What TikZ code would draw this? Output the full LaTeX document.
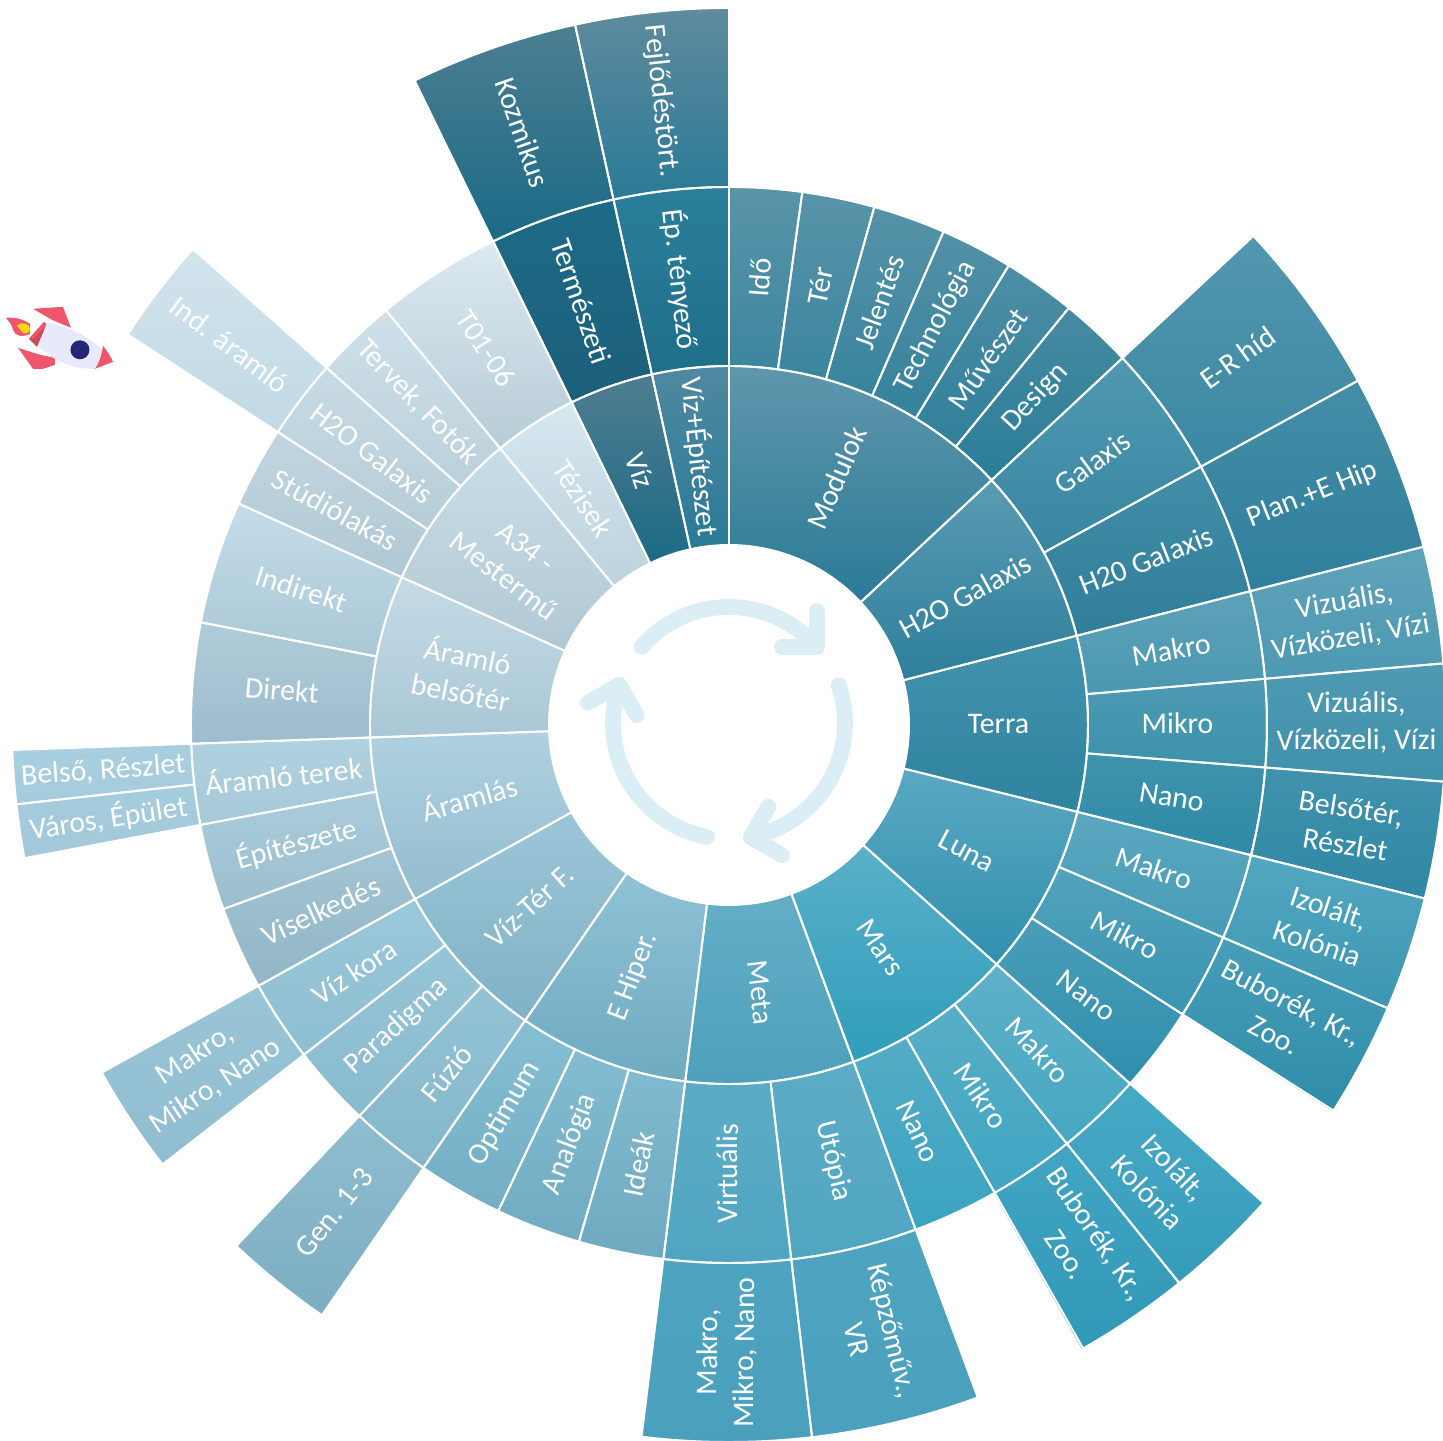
\documentclass[tikz,border=0pt]{standalone}
\usepackage{fontspec}
\setmainfont{Carlito}
\newcommand{\sectorpath}[4]{({90-#1}:#3) arc[start angle={90-#1},end angle={90-#2},radius=#3] -- ({90-#2}:#4) arc[start angle={90-#2},end angle={90-#1},radius=#4] -- cycle}
\tikzset{
	seclabel/.style={text=white,align=center,inner sep=0pt,font=\fontsize{8.5}{10.5}\selectfont},
	secline/.style={draw=white,line width=0.55pt,line join=round},
	cycleline/.style={draw=cycleblue,line width=4.5pt,line cap=round,line join=round}
}
\definecolor{cycleblue}{HTML}{DCEEF5}
\definecolor{rocketred}{HTML}{F0566B}
\begin{document}
\begin{tikzpicture}[scale=1.0]
	\clip (-7.29,-7.15) rectangle (7.14,7.25);
	% one gradient for each branch in each ring
	\foreach \angA/\angB/\ring/\tcol/\bcol in {
		0/47/1/5F97AC/2A7A96, 0/47/2/5A94A9/2A7D98,
		47/75.6/1/5A9BB3/2D7F9B, 47/75.6/2/4F98B1/2F7E9A, 47/75.6/3/5297AF/2F7F9C,
		75.6/104/1/4392AE/2E839F, 75.6/104/2/5DA1B8/2D8AA6, 75.6/104/3/5FA3BA/2F88A5,
		104/131.8/1/5AA8C2/3090AE, 104/131.8/2/5BA7BF/2E8FAE, 104/122.6/3/52A7C0/2F8CA9,
		131.8/159.7/1/5AB0C9/2F9DBB, 131.8/159.7/2/5EB0C7/3AA3C1, 131.8/150.5/3/46A9C6/3198B7,
		159.7/187/1/64AEC6/4DA0BC, 159.7/187/2/5EACC6/4FA5C1, 159.7/187/3/4EA5C1/4A9FBC,
		187/214.6/1/8FC2D5/6FAAC1, 187/214.6/2/86BFD3/6EA9C0,
		214.6/241/1/9CC6D8/80B1C5, 214.6/241/2/9BC8DA/84B7CB,
		214.6/223.4/3/8FBDD0/7CADC1, 232.2/241/3/9AC5D7/8FBDD0,
		241/268/1/AED1E0/94BCCF, 241/268/2/B0D2E0/92B5C7, 259.3/268/3/A8CFE0/A2C8DA,
		268/294.3/1/C5DBE6/A9C7D6, 268/294.3/2/C3DCE8/9DBCCC,
		294.3/320.4/1/C9DDE7/B1C8D4, 294.3/320.4/2/CFE0E9/B0C8D4, 303/311.6/3/D2E4ED/C1D9E5,
		320.4/334/1/D6E7EF/BDD2DC, 320.4/334/2/DBE9F0/B7CCD6,
		334/347.6/1/4F7D90/1D6A85, 334/347.6/2/1D6B87/1D5F7A, 334/347.6/3/4D7F92/1A6A86,
		347.6/360/1/4F89A0/2A7A97, 347.6/360/2/2B7F9B/1F6E8A, 347.6/360/3/5F8B9D/2A7A97}{
		\pgfmathsetmacro{\rin}{1.80+(\ring-1)*1.79}
		\pgfmathsetmacro{\rout}{\rin+1.79}
		\definecolor{gradtop}{HTML}{\tcol}
		\definecolor{gradbot}{HTML}{\bcol}
		\shade[top color=gradtop,bottom color=gradbot] \sectorpath{\angA}{\angB}{\rin}{\rout};
	}
	\foreach \angA/\angB/\ring/\txt [count=\n] in {
		0/47/1/Modulok, 47/75.6/1/H2O Galaxis, 75.6/104/1/Terra, 104/131.8/1/Luna,
		131.8/159.7/1/Mars, 159.7/187/1/Meta, 187/214.6/1/E Hiper.,
		214.6/241/1/Víz-Tér F., 241/268/1/Áramlás, 268/294.3/1/{Áramló\\belsőtér},
		294.3/320.4/1/{A34 -\\Mestermű}, 320.4/334/1/Tézisek, 334/347.6/1/Víz,
		347.6/360/1/Víz+Építészet,
		0/7.83/2/Idő, 7.83/15.67/2/Tér, 15.67/23.5/2/Jelentés, 23.5/31.33/2/Technológia,
		31.33/39.17/2/Művészet, 39.17/47/2/Design,
		47/61.3/2/Galaxis, 61.3/75.6/2/H20 Galaxis,
		75.6/85.07/2/Makro, 85.07/94.53/2/Mikro, 94.53/104/2/Nano,
		104/113.27/2/Makro, 113.27/122.53/2/Mikro, 122.53/131.8/2/Nano,
		131.8/141.1/2/Makro, 141.1/150.4/2/Mikro, 150.4/159.7/2/Nano,
		159.7/173.35/2/Utópia, 173.35/187/2/Virtuális,
		187/196.2/2/Ideák, 196.2/205.4/2/Analógia, 205.4/214.6/2/Optimum,
		214.6/223.4/2/Fúzió, 223.4/232.2/2/Paradigma, 232.2/241/2/Víz kora,
		241/250/2/Viselkedés, 250/259.3/2/Építészete, 259.3/268/2/Áramló terek,
		268/281/2/Direkt, 281/294.3/2/Indirekt,
		294.3/303/2/Stúdiólakás, 303/311.6/2/H2O Galaxis, 311.6/320.4/2/{Tervek, Fotók},
		320.4/334/2/T01-06, 334/347.6/2/Természeti, 347.6/360/2/Ép. tényező,
		47/61.3/3/E-R híd, 61.3/75.6/3/Plan.+E Hip,
		75.6/85.07/3/{Vizuális,\\Vízközeli, Vízi}, 85.07/94.53/3/{Vizuális,\\Vízközeli, Vízi},
		94.53/104/3/{Belsőtér,\\Részlet},
		104/113.27/3/{Izolált,\\Kolónia}, 113.27/122.53/3/{Buborék, Kr.,\\Zoo.},
		131.8/141.1/3/{Izolált,\\Kolónia}, 141.1/150.4/3/{Buborék, Kr.,\\Zoo.},
		159.7/173.35/3/{Képzőműv.,\\VR}, 173.35/187/3/{Makro,\\Mikro, Nano},
		214.6/223.4/3/Gen. 1-3, 232.2/241/3/{Makro,\\Mikro, Nano},
		259.3/263.65/3/{Város, Épület}, 263.65/268/3/{Belső, Részlet},
		303/311.6/3/Ind. áramló, 334/347.6/3/Kozmikus, 347.6/360/3/Fejlődéstört.}{
		\pgfmathsetmacro{\rin}{1.80+(\ring-1)*1.79}
		\pgfmathsetmacro{\rout}{\rin+1.79}
		\pgfmathsetmacro{\rmid}{\rin+0.895}
		\pgfmathsetmacro{\amid}{(\angA+\angB)/2}
		\pgfmathsetmacro{\rot}{\amid<175 ? 90-\amid : 270-\amid}
		\draw[secline] \sectorpath{\angA}{\angB}{\rin}{\rout};
		\node[seclabel,rotate=\rot] (lab\n) at ({90-\amid}:\rmid) {\txt};
	}
	% arrows in the hole
	\foreach \k in {0,120,240}{
		\begin{scope}[shift={(0,0.02)},rotate=-\k]
			\draw[cycleline] (139:1.16) arc[start angle=139,end angle=41,radius=1.16];
			\draw[cycleline] (0.88,1.12) -- (0.88,0.76) -- (0.53,0.76);
		\end{scope}
	}
	% rocket, in pixels of the picture
	\begin{scope}[shift={(-7.29,7.25)},x=0.01cm,y=-0.01cm]
		\fill[rocketred] (33,309) -- (63,307) -- (71,328) -- (52,320) -- cycle;
		\fill[rocketred] (18,348) -- (40,355) -- (55,358) -- (55,365) -- (43,369) -- (33,369) -- cycle;
		\fill[rocketred] (6,318) .. controls (16,317) and (24,320) .. (30,324) -- (30,334) .. controls (22,338) and (15,336) .. (13,330) .. controls (12,325) and (9,322) .. (6,318) -- cycle;
		\fill[yellow!75!orange] (17,326) .. controls (22,321) and (30,324) .. (30,329) .. controls (30,334) and (24,335) .. (22,332) -- cycle;
		\fill[rocketred!85!black] (44,322) -- (29,339) -- (37,347) -- (47,325) -- cycle;
		\fill[rocketred] (44,322) -- (31,338) -- (33,339) -- (46,326) -- cycle;
		\fill[gray!25!blue!10!white] (47,323) .. controls (75,326) and (100,345) .. (113,362) -- (95,369) .. controls (70,370) and (50,358) .. (38,346) -- cycle;
		\fill[rocketred] (103,346) .. controls (108,352) and (111,357) .. (113,362) -- (95,369) .. controls (100,362) and (102,354) .. (103,346) -- cycle;
		\fill[blue!45!black!70!gray] (80,350) circle (9.5);
	\end{scope}
\end{tikzpicture}
\end{document}
